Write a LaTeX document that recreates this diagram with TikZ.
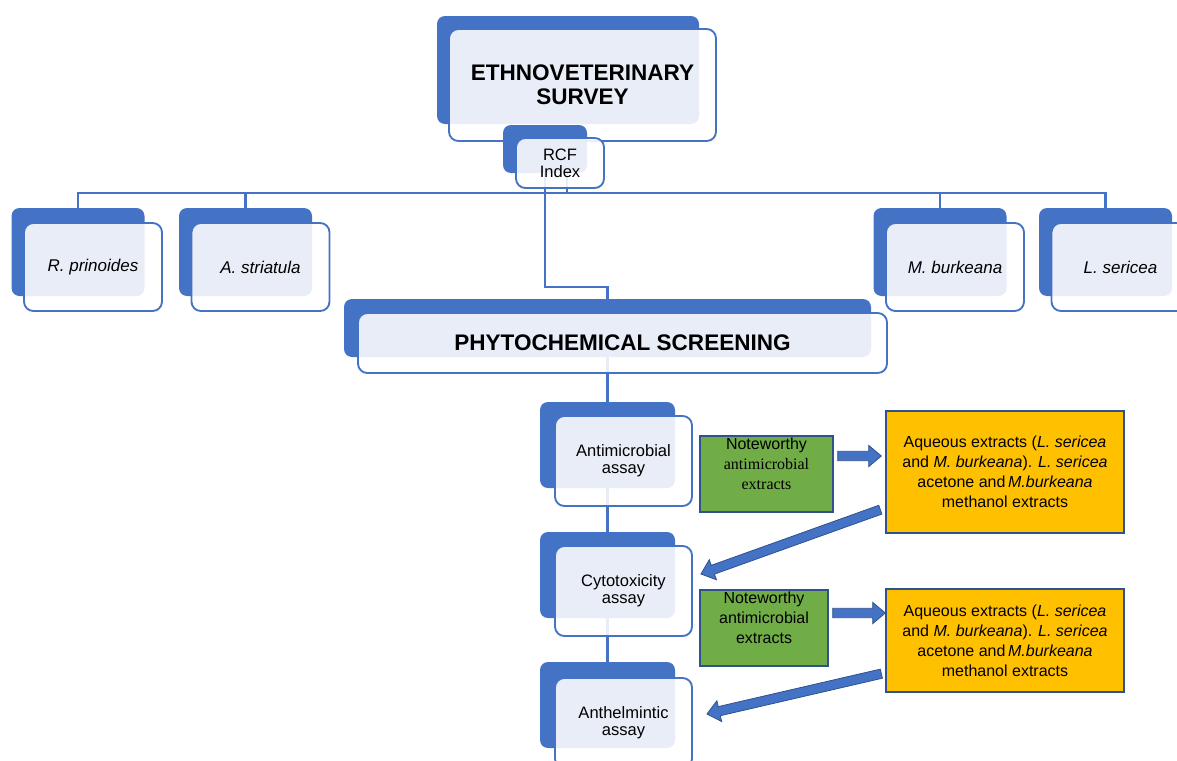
\documentclass[tikz,border=0pt]{standalone}
\usepackage{fontspec}
\setmainfont{Liberation Sans}
\newfontfamily\timesface{Liberation Serif}
\usetikzlibrary{calc}
\pgfdeclarelayer{lines}
\pgfsetlayers{lines,main}
\definecolor{boxBlue}{RGB}{68,114,196}
\definecolor{edgeBlue}{RGB}{47,82,143}
\definecolor{leafGreen}{RGB}{112,173,71}
\definecolor{amber}{RGB}{255,192,0}
\tikzset{
  px size/.style 2 args={minimum width=#1*0.75pt, minimum height=#2*0.75pt},
  backbox/.style={fill=boxBlue, rounded corners=6pt, inner sep=0pt},
  frontbox/.style={draw=boxBlue, line width=1.4pt, fill=white, fill opacity=0.88,
    text opacity=1, rounded corners=7pt, inner sep=2pt, align=center},
  titletext/.style={font=\bfseries\fontsize{16.9}{18}\selectfont},
  speciestext/.style={font=\itshape\fontsize{12.75}{15}\selectfont},
  smalltext/.style={font=\fontsize{12.4}{12.75}\selectfont},
  greenbox/.style={draw=edgeBlue, line width=1pt, fill=leafGreen, align=center,
    inner sep=0pt, font=\fontsize{12}{15}\selectfont},
  amberbox/.style={draw=edgeBlue, line width=1pt, fill=amber, align=center,
    inner sep=0pt, font=\fontsize{12}{15}\selectfont},
  tree/.style={draw=boxBlue, line width=1.6pt},
  fatarrow/.style={fill=boxBlue, draw=edgeBlue, line width=0.6pt, line join=miter},
}
\newcommand{\fatarrow}[2]{%
  \coordinate (fa-base) at ($(#2)!9.5pt!(#1)$);
  \path[fatarrow] ($(#1)!3.5pt!90:(#2)$) -- ($(fa-base)!3.5pt!90:(#2)$)
    -- ($(fa-base)!8pt!90:(#2)$) -- (#2) -- ($(fa-base)!8pt!-90:(#2)$)
    -- ($(fa-base)!3.5pt!-90:(#2)$) -- ($(#1)!3.5pt!-90:(#2)$) -- cycle;}
\begin{document}
\begin{tikzpicture}[x=0.75pt,y=-0.75pt]
\path[use as bounding box] (0,0) rectangle (1177,760);

% survey and index
\node[backbox, px size={262}{108}] (surveyB) at (568,70) {};
\node[frontbox, px size={267}{112}, titletext] (survey) at (582.5,85) {ETHNOVETERINARY\\SURVEY};
\node[backbox, px size={84}{48}] (rcfB) at (545,149) {};
\node[frontbox, px size={88}{50}, smalltext] (rcf) at (560,163) {RCF\\Index};
\coordinate (bar) at (567,193);

% plant species
\node[backbox, px size={133}{88}] (rpB) at (78,252) {};
\node[frontbox, px size={138}{88}, speciestext] (rp) at (93,267) {R. prinoides};
\node[backbox, px size={133}{88}] (asB) at (245.5,252) {};
\node[frontbox, px size={138}{88}, speciestext] (as) at (260.5,267) {A. striatula};
\node[backbox, px size={133}{88}] (mbB) at (940,252) {};
\node[frontbox, px size={138}{88}, speciestext] (mb) at (955,267) {M. burkeana};
\node[backbox, px size={133}{88}] (lsB) at (1105.5,252) {};
\node[frontbox, px size={138}{88}, speciestext] (ls) at (1120.5,267) {L. sericea};

% screening
\node[backbox, px size={527}{58}] (phB) at (607.5,328) {};
\node[frontbox, px size={529}{60}, titletext] (phyto) at (622.5,343) {PHYTOCHEMICAL SCREENING};

% assays
\node[backbox, px size={135}{86}] (amB) at (607.5,445) {};
\node[frontbox, px size={137}{90}, smalltext] (am) at (623.5,461) {Antimicrobial\\assay};
\node[backbox, px size={135}{86}] (ctB) at (607.5,575) {};
\node[frontbox, px size={137}{90}, smalltext] (ct) at (623.5,591) {Cytotoxicity\\assay};
\node[backbox, px size={135}{86}] (anB) at (607.5,705) {};
\node[frontbox, px size={137}{90}, smalltext] (an) at (623.5,723) {Anthelmintic\\assay};

% findings
\node[greenbox, px size={133}{76}] (g1) at (766.5,474)
  {Noteworthy\\{\timesface antimicrobial}\\{\timesface extracts}\\\mbox{}};
\node[amberbox, px size={238}{122}] (y1) at (1005,472)
  {Aqueous extracts (\textit{L. sericea}\\and \textit{M. burkeana}). \textit{L. sericea}\\acetone and\,\textit{M.burkeana}\\methanol extracts};
\node[greenbox, px size={128}{76}] (g2) at (764,628)
  {Noteworthy\\antimicrobial\\extracts\\\mbox{}};
\node[amberbox, px size={238}{103}] (y2) at (1005,640.5)
  {Aqueous extracts (\textit{L. sericea}\\and \textit{M. burkeana}). \textit{L. sericea}\\acetone and\,\textit{M.burkeana}\\methanol extracts};

\begin{pgfonlayer}{lines}
\draw[tree] (rpB.north) -- ++(0,-15) -| (lsB.north);
\draw[tree] (asB.north) -- (asB.north |- bar);
\draw[tree] (mbB.north) -- (mbB.north |- bar);
\draw[tree] ([xshift=5.25pt]rcf.center) -- ([xshift=5.25pt]rcf.center |- bar);
\draw[tree] ([xshift=-11.25pt]rcf.center) |- ($(phB.north)+(0,-12)$) -- (phB.north);
\draw[tree] (phyto.center -| amB.north) -- (amB.north);
\draw[tree] (am.center -| ctB.north) -- (ctB.north);
\draw[tree] (ct.center -| anB.north) -- (anB.north);
\end{pgfonlayer}

% block arrows
\coordinate (a1s) at ($(g1.east)+(4,-18)$);
\coordinate (a1e) at ($(a1s -| y1.west)+(-4,0)$);
\fatarrow{a1s}{a1e}
\coordinate (d1s) at ($(y1.south west)+(-5,-24)$);
\coordinate (d1e) at ($(ct.east)+(8,-17)$);
\fatarrow{d1s}{d1e}
\coordinate (a2s) at ($(g2.east)+(4,-15)$);
\coordinate (a2e) at (a2s -| y2.west);
\fatarrow{a2s}{a2e}
\coordinate (d2s) at ($(y2.south west)+(-4,-19)$);
\coordinate (d2e) at ($(an.east)+(14,-9)$);
\fatarrow{d2s}{d2e}
\end{tikzpicture}
\end{document}
